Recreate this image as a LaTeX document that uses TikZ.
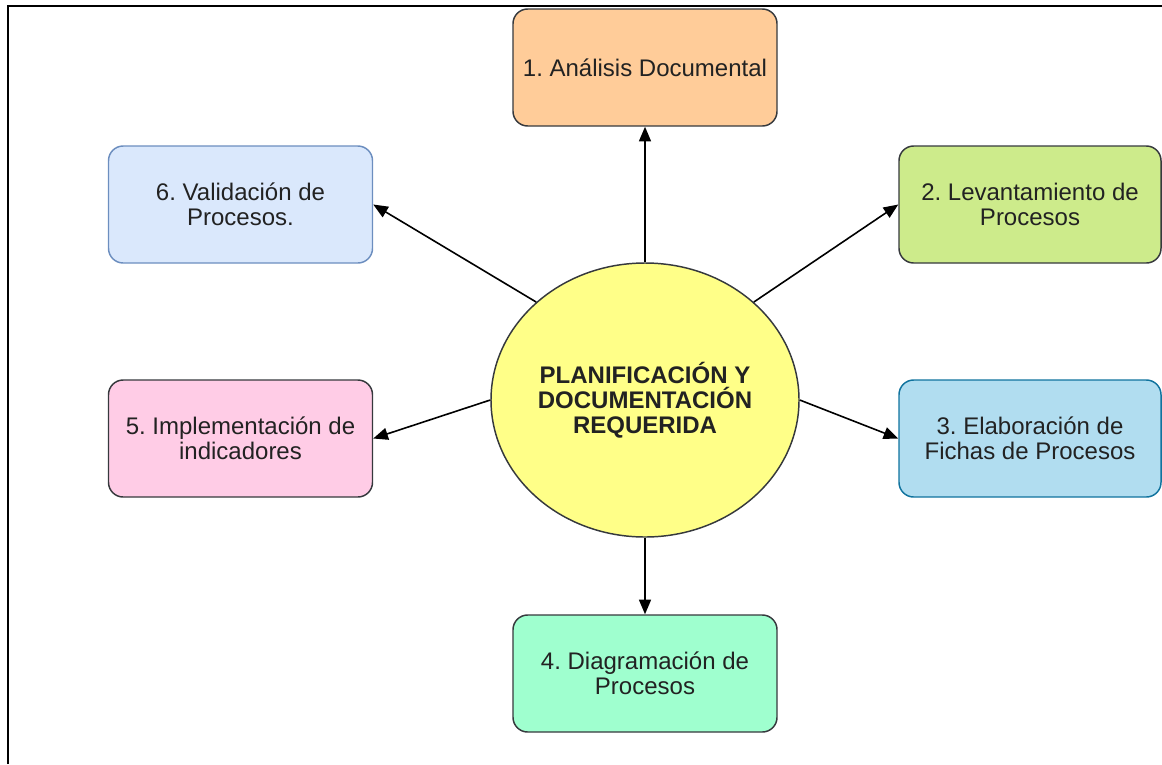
\documentclass[tikz,border=0pt]{standalone}
\usepackage{fontspec}
\setmainfont{Liberation Sans}
\frenchspacing
\usetikzlibrary{arrows.meta,shapes.geometric}
\definecolor{cOrange}{HTML}{FFCC99}
\definecolor{cGreen}{HTML}{CDEB8B}
\definecolor{cBlue}{HTML}{B1DDF0}
\definecolor{cBlueB}{HTML}{10739E}
\definecolor{cMint}{HTML}{9FFFCF}
\definecolor{cPink}{HTML}{FFCCE6}
\definecolor{cLight}{HTML}{DAE8FC}
\definecolor{cLightB}{HTML}{6C8EBF}
\definecolor{cYellow}{HTML}{FFFF88}
\definecolor{cDark}{HTML}{36393D}
\definecolor{cText}{HTML}{222222}
\tikzset{
  procbox/.style={draw=cDark, line width=1.1pt, rounded corners=11pt,
    minimum width=198pt, minimum height=87.75pt, align=center,
    text=cText, font=\fontsize{18}{18.75}\selectfont},
  hub/.style={ellipse, draw=cDark, fill=cYellow, line width=1.1pt,
    minimum width=231pt, minimum height=205.5pt, inner sep=0pt,
    align=center, text=cText, font=\bfseries\fontsize{18}{18.75}\selectfont},
  link/.style={draw=black, line width=1.2pt, -{Triangle[length=11pt,width=9pt]}},
  frame/.style={draw=black, line width=1.6pt}
}
\begin{document}
\begin{tikzpicture}[x=0.75pt,y=-0.75pt]
\useasboundingbox (0,0) rectangle (1162,764);
\coordinate (f1) at (8,764);
\coordinate (f2) at (8,6);
\coordinate (f3) at (1162,6);
\draw[frame] (f1) -- (f2) -- (f3);

\node[hub] (c) at (645,400) {PLANIFICACIÓN Y\\DOCUMENTACIÓN\\REQUERIDA};

\node[procbox, fill=cOrange] (b1) at (645,67.5) {1. Análisis Documental};
\node[procbox, fill=cGreen, minimum width=196.5pt] (b2) at (1030,204.5) {2. Levantamiento de\\Procesos};
\node[procbox, fill=cBlue, draw=cBlueB, minimum width=196.5pt] (b3) at (1030,438.5) {3. Elaboración de\\Fichas de Procesos};
\node[procbox, fill=cMint] (b4) at (645,673.5) {4. Diagramación de\\Procesos};
\node[procbox, fill=cPink] (b5) at (240.5,438.5) {5. Implementación de\\indicadores};
\node[procbox, fill=cLight, draw=cLightB] (b6) at (240.5,204.5) {6. Validación de\\Procesos.};

\draw[link] (c.north) -- (b1.south);
\draw[link] (c.42) -- (b2.west);
\draw[link] (c.east) -- (b3.west);
\draw[link] (c.south) -- (b4.north);
\draw[link] (c.west) -- (b5.east);
\draw[link] (c.138) -- (b6.east);
\end{tikzpicture}
\end{document}
